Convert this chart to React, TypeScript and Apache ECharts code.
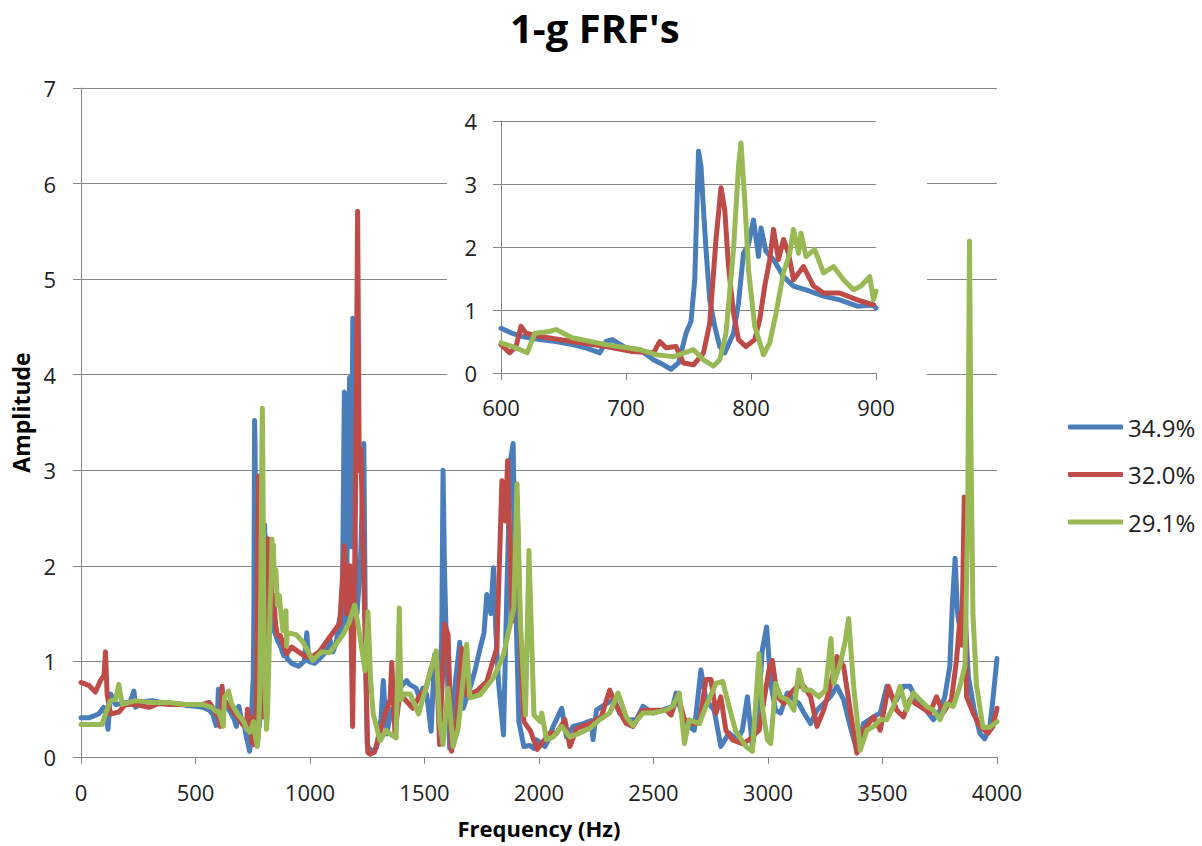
import React, { useEffect, useRef } from "react";
import * as echarts from "echarts";

const FONT = '"Open Sans", "Noto Sans", sans-serif';

const seriesNames = ["34.9%", "32.0%", "29.1%"];
const seriesColors = ["#4A7EBB", "#BE4B48", "#98B954"];

const mainXRange = [0, 4000, 500];
const mainYRange = [0, 7, 1];
const insetXRange = [600, 900, 100];
const insetYRange = [0, 4, 1];

// [frequency (Hz), amplitude]
const s349: [number, number][] = [
  [0, 0.41], [34, 0.41], [77, 0.45], [99, 0.52], [110, 0.42], [118, 0.29], [129, 0.66], [151, 0.55], [180, 0.56],
  [215, 0.58], [231, 0.69], [238, 0.52], [270, 0.58], [311, 0.59], [350, 0.57], [385, 0.56], [420, 0.56], [458, 0.54],
  [500, 0.53], [531, 0.52], [560, 0.49], [575, 0.45], [590, 0.33], [596, 0.45],
  [600, 0.71], [609, 0.63], [617, 0.58], [631, 0.53], [644, 0.5], [657, 0.45], [668, 0.4], [679, 0.32], [684, 0.5],
  [689, 0.53], [700, 0.4], [711, 0.37], [722, 0.21], [730, 0.13], [736, 0.06], [742, 0.16], [748, 0.63], [752, 0.82],
  [755, 1.48], [758, 3.52], [760, 3.28], [762, 2.59], [764, 1.96], [767, 1.16], [771, 0.74], [775, 0.42], [779, 0.32],
  [786, 0.63], [790, 1.11], [794, 1.9], [798, 2.04], [802, 2.43], [806, 1.85], [808, 2.3], [812, 1.93], [818, 1.8],
  [826, 1.53], [834, 1.38], [844, 1.32], [858, 1.22], [871, 1.16], [885, 1.06], [898, 1.08], [900, 1.03],
  [920, 0.98], [950, 0.95], [975, 1.0], [986, 1.3], [995, 1.0], [1020, 0.98], [1050, 1.05], [1070, 1.1], [1085, 1.25],
  [1100, 1.1], [1115, 1.2], [1129, 1.45], [1140, 1.3], [1150, 3.82], [1157, 1.4], [1165, 2.6], [1173, 3.97], [1180, 2.2],
  [1187, 4.59], [1195, 2.4], [1205, 1.5], [1220, 2.0], [1235, 3.28], [1243, 1.0], [1250, 0.12], [1270, 0.05], [1291, 0.1],
  [1310, 0.4], [1320, 0.8], [1335, 0.24], [1355, 0.5], [1371, 0.4], [1390, 0.72], [1422, 0.8], [1434, 0.76], [1463, 0.72],
  [1478, 0.62], [1493, 0.72], [1510, 0.65], [1529, 0.27], [1544, 1.07], [1565, 0.8], [1575, 1.2], [1581, 3.0], [1587, 2.0],
  [1593, 1.42], [1610, 0.09], [1632, 0.72], [1654, 1.2], [1669, 0.51], [1698, 0.72], [1720, 0.9], [1743, 1.14], [1760, 1.3],
  [1772, 1.7], [1790, 1.5], [1801, 1.98], [1812, 1.3], [1823, 0.79], [1845, 0.23], [1860, 1.77], [1875, 3.1], [1887, 3.28],
  [1897, 1.77], [1912, 0.37], [1934, 0.11], [1960, 0.12], [1978, 0.09], [1990, 0.18], [2026, 0.11], [2037, 0.16], [2062, 0.32],
  [2099, 0.51], [2120, 0.21], [2149, 0.32], [2193, 0.35], [2229, 0.38], [2236, 0.18], [2251, 0.49], [2294, 0.56], [2330, 0.6],
  [2352, 0.46], [2381, 0.39], [2425, 0.39], [2454, 0.53], [2497, 0.46], [2540, 0.49], [2584, 0.53], [2599, 0.67], [2627, 0.42],
  [2656, 0.32], [2678, 0.28], [2707, 0.91], [2729, 0.6], [2765, 0.49], [2794, 0.11], [2830, 0.25], [2866, 0.18], [2888, 0.28],
  [2910, 0.63], [2932, 0.11], [2961, 0.6], [2975, 1.12], [2994, 1.36], [3012, 0.77], [3033, 0.49], [3055, 0.46], [3084, 0.67],
  [3113, 0.6], [3135, 0.56], [3157, 0.46], [3186, 0.35], [3214, 0.49], [3243, 0.56], [3272, 0.63], [3301, 0.74], [3330, 0.6],
  [3359, 0.32], [3388, 0.07], [3417, 0.35], [3461, 0.42], [3490, 0.46], [3519, 0.74], [3540, 0.63], [3562, 0.6], [3591, 0.74],
  [3620, 0.74], [3649, 0.6], [3678, 0.53], [3722, 0.39], [3751, 0.49], [3772, 0.63], [3794, 0.95], [3805, 1.6], [3817, 2.08],
  [3828, 1.5], [3846, 1.21], [3860, 1.5], [3875, 0.84], [3900, 0.5], [3925, 0.25], [3946, 0.19], [3968, 0.3], [3982, 0.6],
  [4000, 1.03],
];

const s320: [number, number][] = [
  [0, 0.78], [34, 0.75], [63, 0.68], [85, 0.8], [100, 0.85], [107, 1.1], [114, 0.66], [129, 0.45], [165, 0.47], [194, 0.55],
  [238, 0.55], [297, 0.52], [340, 0.56], [385, 0.55], [420, 0.55], [460, 0.55], [500, 0.55], [531, 0.55], [560, 0.57],
  [580, 0.5], [589, 0.45],
  [600, 0.45], [607, 0.32], [612, 0.42], [616, 0.74], [620, 0.63], [631, 0.58], [657, 0.5], [684, 0.42], [705, 0.34],
  [722, 0.32], [727, 0.5], [732, 0.4], [740, 0.42], [746, 0.16], [754, 0.13], [762, 0.32], [767, 0.79], [772, 2.12],
  [776, 2.94], [779, 2.59], [782, 1.69], [786, 0.95], [790, 0.53], [796, 0.42], [803, 0.53], [807, 0.85], [811, 1.38],
  [815, 1.8], [818, 2.28], [822, 1.8], [826, 2.12], [830, 1.9], [834, 1.48], [842, 1.69], [850, 1.38], [858, 1.27],
  [871, 1.27], [885, 1.16], [898, 1.08],
  [920, 1.15], [950, 1.1], [980, 1.05], [1010, 1.05], [1040, 1.1], [1070, 1.2], [1100, 1.3], [1130, 1.4], [1150, 2.21],
  [1160, 1.5], [1175, 2.0], [1186, 0.32], [1198, 2.5], [1208, 5.71], [1215, 3.0], [1222, 3.22], [1237, 1.67], [1252, 0.05],
  [1262, 0.03], [1281, 0.05], [1291, 0.13], [1328, 0.45], [1350, 0.6], [1357, 0.99], [1371, 0.25], [1390, 0.62], [1408, 0.62],
  [1449, 0.51], [1481, 0.65], [1507, 0.72], [1529, 0.93], [1551, 1.07], [1566, 0.13], [1588, 1.39], [1603, 1.28], [1618, 0.06],
  [1640, 0.37], [1662, 1.14], [1684, 0.65], [1728, 0.69], [1772, 0.79], [1816, 1.14], [1838, 2.89], [1853, 2.47], [1863, 3.1],
  [1882, 1.42], [1904, 2.72], [1919, 1.21], [1934, 0.37], [1963, 0.27], [1992, 0.08], [2037, 0.22], [2048, 0.25], [2077, 0.25],
  [2113, 0.39], [2135, 0.11], [2164, 0.3], [2222, 0.35], [2272, 0.42], [2309, 0.7], [2338, 0.53], [2381, 0.35], [2410, 0.32],
  [2454, 0.49], [2512, 0.49], [2555, 0.49], [2577, 0.44], [2606, 0.65], [2635, 0.39], [2671, 0.35], [2700, 0.35], [2729, 0.81],
  [2751, 0.81], [2773, 0.46], [2794, 0.63], [2816, 0.28], [2845, 0.18], [2888, 0.14], [2917, 0.18], [2961, 0.28], [2983, 0.6],
  [3004, 0.91], [3019, 1.01], [3041, 0.63], [3070, 0.56], [3099, 0.67], [3128, 0.74], [3157, 0.74], [3186, 0.63], [3214, 0.32],
  [3243, 0.49], [3272, 0.74], [3301, 1.05], [3330, 0.95], [3359, 0.49], [3388, 0.04], [3417, 0.28], [3461, 0.42], [3490, 0.28],
  [3526, 0.74], [3562, 0.49], [3591, 0.42], [3620, 0.6], [3664, 0.53], [3707, 0.46], [3736, 0.63], [3765, 0.46], [3801, 0.6],
  [3823, 1.01], [3840, 1.5], [3846, 1.17], [3857, 2.72], [3867, 0.63], [3896, 0.46], [3925, 0.32], [3961, 0.25], [3982, 0.32],
  [4000, 0.51],
];

const s291: [number, number][] = [
  [0, 0.34], [34, 0.34], [92, 0.34], [107, 0.45], [129, 0.59], [151, 0.6], [165, 0.76], [180, 0.55], [238, 0.59], [311, 0.57],
  [385, 0.57], [458, 0.55], [531, 0.55], [570, 0.52], [589, 0.48],
  [600, 0.48], [612, 0.4], [621, 0.32], [627, 0.63], [639, 0.66], [644, 0.69], [657, 0.56], [684, 0.45], [711, 0.37],
  [724, 0.29], [738, 0.26], [754, 0.37], [762, 0.21], [770, 0.11], [775, 0.21], [780, 0.63], [786, 1.96], [790, 3.28],
  [792, 3.65], [795, 2.75], [798, 1.64], [803, 0.74], [810, 0.29], [815, 0.48], [820, 0.95], [826, 1.59], [831, 1.9],
  [834, 2.28], [838, 1.9], [840, 2.22], [844, 1.85], [851, 1.96], [858, 1.59], [866, 1.69], [874, 1.48], [882, 1.32],
  [888, 1.38], [895, 1.53], [898, 1.16], [900, 1.3],
  [940, 1.28], [970, 1.2], [1012, 1.01], [1050, 1.1], [1085, 1.09], [1120, 1.2], [1144, 1.28], [1170, 1.4], [1195, 1.59],
  [1217, 1.28], [1240, 0.9], [1253, 1.52], [1265, 0.8], [1276, 0.45], [1306, 0.17], [1333, 0.28], [1350, 0.24], [1376, 0.2],
  [1390, 1.56], [1397, 0.6], [1408, 0.66], [1437, 0.66], [1474, 0.45], [1522, 0.86], [1551, 1.11], [1566, 0.37], [1581, 0.13],
  [1603, 0.72], [1625, 0.11], [1647, 0.3], [1684, 1.18], [1698, 0.62], [1743, 0.65], [1801, 0.83], [1845, 1.07], [1890, 1.56],
  [1904, 2.86], [1919, 1.4], [1941, 0.44], [1956, 2.16], [1978, 0.44], [2007, 0.37], [2012, 0.46], [2033, 0.18], [2062, 0.21],
  [2099, 0.32], [2135, 0.21], [2178, 0.25], [2222, 0.3], [2265, 0.39], [2309, 0.46], [2345, 0.67], [2381, 0.42], [2410, 0.33],
  [2454, 0.46], [2497, 0.46], [2555, 0.49], [2584, 0.53], [2613, 0.67], [2635, 0.14], [2656, 0.39], [2700, 0.35], [2729, 0.53],
  [2773, 0.77], [2802, 0.79], [2830, 0.53], [2859, 0.27], [2903, 0.11], [2932, 0.06], [2961, 1.08], [2975, 0.53], [2997, 0.18],
  [3012, 0.14], [3033, 0.77], [3055, 0.63], [3084, 0.6], [3113, 0.49], [3135, 0.91], [3157, 0.7], [3186, 0.7], [3222, 0.63],
  [3251, 0.7], [3275, 1.24], [3287, 0.77], [3316, 0.98], [3338, 1.22], [3352, 1.45], [3374, 0.74], [3403, 0.07], [3432, 0.28],
  [3461, 0.32], [3490, 0.39], [3519, 0.39], [3548, 0.53], [3577, 0.74], [3606, 0.49], [3635, 0.67], [3664, 0.6], [3693, 0.53],
  [3722, 0.49], [3751, 0.39], [3780, 0.56], [3809, 0.53], [3838, 0.74], [3860, 0.95], [3872, 2.5], [3880, 5.4], [3886, 3.3],
  [3895, 1.5], [3910, 0.76], [3939, 0.31], [3968, 0.31], [4000, 0.37],
];

const seriesData = [s349, s320, s291];

const GRID_COLOR = "#868686";
const LABEL_COLOR = "#222";

export default function App() {
  const ref = useRef<HTMLDivElement>(null);

  useEffect(() => {
    if (!ref.current) return;
    const chart = echarts.init(ref.current, null, { renderer: "svg" });

    const axisLineStyle = { show: true, onZero: false, lineStyle: { color: GRID_COLOR, width: 1 } };
    const tickStyle = (len: number) => ({ show: true, length: len, lineStyle: { color: GRID_COLOR, width: 1 } });
    const plain = (v: number) => String(v);

    const mainSeries = seriesNames.map((name, i) => ({
      type: "line",
      name,
      xAxisIndex: 0,
      yAxisIndex: 0,
      data: seriesData[i],
      symbol: "none",
      silent: true,
      z: 2,
      lineStyle: { color: seriesColors[i], width: 5, cap: "round", join: "round" },
      itemStyle: { color: seriesColors[i] },
    }));

    const insetSeries = seriesNames.map((name, i) => ({
      type: "line",
      name,
      xAxisIndex: 1,
      yAxisIndex: 1,
      data: seriesData[i].filter((p) => p[0] >= insetXRange[0] && p[0] <= insetXRange[1]),
      symbol: "none",
      silent: true,
      z: 4,
      lineStyle: { color: seriesColors[i], width: 5, cap: "round", join: "round" },
      itemStyle: { color: seriesColors[i] },
    }));

    const option: any = {
      animation: false,
      backgroundColor: "#ffffff",
      textStyle: { fontFamily: FONT },
      title: {
        text: "1-g FRF's",
        left: 505,
        top: 2,
        textStyle: { fontSize: 40, fontWeight: "bold", color: "#000", fontFamily: FONT },
      },
      legend: {
        orient: "vertical",
        left: 1063,
        top: 410,
        itemWidth: 55,
        itemHeight: 5,
        itemGap: 23.5,
        icon: "roundRect",
        selectedMode: false,
        data: seriesNames,
        textStyle: { fontSize: 24, color: LABEL_COLOR, lineHeight: 24, fontFamily: FONT },
      },
      grid: [
        { left: 81, top: 88, width: 916, height: 669, containLabel: false },
        { left: 501, top: 121, width: 375, height: 252, containLabel: false },
      ],
      graphic: [
        {
          type: "rect",
          shape: { x: 447, y: 98, width: 480, height: 330 },
          style: { fill: "#ffffff" },
          z: 1,
          silent: true,
        },
      ],
      xAxis: [
        {
          type: "value",
          gridIndex: 0,
          min: mainXRange[0],
          max: mainXRange[1],
          interval: mainXRange[2],
          name: "Frequency (Hz)",
          nameLocation: "middle",
          nameGap: 60,
          nameTextStyle: { fontSize: 22, fontWeight: "bold", color: "#000", fontFamily: FONT },
          axisLine: axisLineStyle,
          axisTick: tickStyle(7),
          axisLabel: { fontSize: 22, color: LABEL_COLOR, margin: 24, fontFamily: FONT, formatter: plain },
          splitLine: { show: false },
        },
        {
          type: "value",
          gridIndex: 1,
          min: insetXRange[0],
          max: insetXRange[1],
          interval: insetXRange[2],
          z: 3,
          axisLine: axisLineStyle,
          axisTick: tickStyle(7),
          axisLabel: { fontSize: 22, color: LABEL_COLOR, margin: 23, fontFamily: FONT, formatter: plain },
          splitLine: { show: false },
        },
      ],
      yAxis: [
        {
          type: "value",
          gridIndex: 0,
          min: mainYRange[0],
          max: mainYRange[1],
          interval: mainYRange[2],
          name: "Amplitude",
          nameLocation: "middle",
          nameRotate: 90,
          nameGap: 46,
          nameTextStyle: { fontSize: 23, fontWeight: "bold", color: "#000", fontFamily: FONT, padding: [0, 0, 0, 20] },
          axisLine: axisLineStyle,
          axisTick: tickStyle(8),
          axisLabel: { fontSize: 22, color: LABEL_COLOR, margin: 25, fontFamily: FONT, formatter: plain },
          splitLine: { show: true, lineStyle: { color: GRID_COLOR, width: 1 } },
        },
        {
          type: "value",
          gridIndex: 1,
          min: insetYRange[0],
          max: insetYRange[1],
          interval: insetYRange[2],
          z: 3,
          axisLine: axisLineStyle,
          axisTick: tickStyle(8),
          axisLabel: { fontSize: 22, color: LABEL_COLOR, margin: 24, fontFamily: FONT, formatter: plain },
          splitLine: { show: true, lineStyle: { color: GRID_COLOR, width: 1 } },
        },
      ],
      series: [...mainSeries, ...insetSeries],
    };

    chart.setOption(option);
    return () => {
      chart.dispose();
    };
  }, []);

  return (
    <div
      ref={ref}
      style={{ position: "fixed", left: 0, top: 0, width: 1202, height: 846, background: "#fff" }}
    />
  );
}
